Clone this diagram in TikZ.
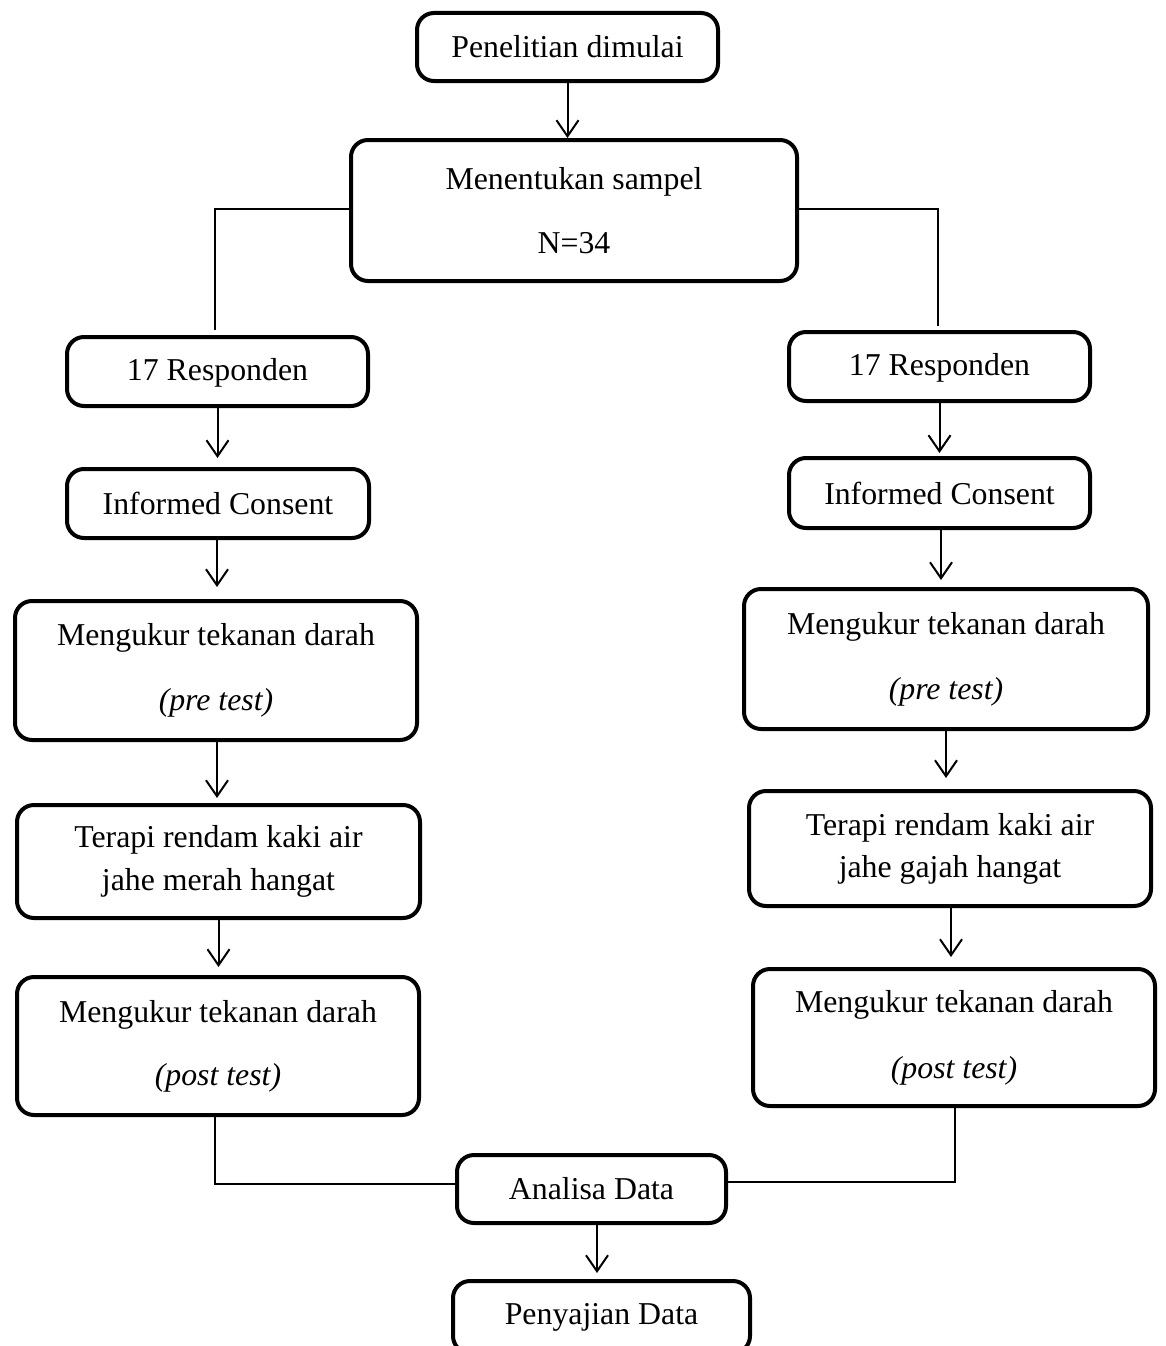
\documentclass[tikz,border=0pt]{standalone}
\usepackage{fontspec}
\setmainfont{Liberation Serif}
\usetikzlibrary{arrows.meta}
\begin{document}
\begin{tikzpicture}[x=1pt,y=-1pt,
  box/.style={draw, line width=4pt, rounded corners=17pt, align=center, inner sep=0pt,
              font=\fontsize{31.8}{38}\selectfont},
  ln/.style={line width=2pt},
  arr/.style={ln, -{Straight Barb[length=16pt,width=22pt]}}]
\useasboundingbox (0,0) rectangle (1165,1346);
\clip (0,0) rectangle (1165,1346);

\node[box, minimum width=301pt, minimum height=68pt] (pen) at (567.5,47) {Penelitian dimulai};
\node[box, minimum width=446pt, minimum height=141pt] (men) at (574,210.5) {Menentukan sampel\\[26pt]N=34};

\node[box, minimum width=301pt, minimum height=69pt, text height=22pt, text depth=4pt] (r1L) at (217.5,371.5) {17 Responden};
\node[box, minimum width=301pt, minimum height=69pt, text height=22pt, text depth=4pt] (r1R) at (939.5,366.5) {17 Responden};

\node[box, minimum width=302pt, minimum height=69pt] (icL) at (218,503.5) {Informed Consent};
\node[box, minimum width=301pt, minimum height=70pt] (icR) at (939.5,493) {Informed Consent};

\node[box, minimum width=402pt, minimum height=139pt] (preL) at (216,670.5) {Mengukur tekanan darah\\[27pt]\textit{(pre test)}};
\node[box, minimum width=404pt, minimum height=140pt] (preR) at (946,659) {Mengukur tekanan darah\\[27pt]\textit{(pre test)}};

\node[box, minimum width=403pt, minimum height=113pt] (terL) at (218.5,861.5) {Terapi rendam kaki air\\[5pt]jahe merah hangat};
\node[box, minimum width=402pt, minimum height=115pt] (terR) at (950,848.5) {Terapi rendam kaki air\\[4pt]jahe gajah hangat};

\node[box, minimum width=402pt, minimum height=138pt] (postL) at (218,1046) {Mengukur tekanan darah\\[25pt]\textit{(post test)}};
\node[box, minimum width=402pt, minimum height=137pt] (postR) at (954,1037.5) {Mengukur tekanan darah\\[28pt]\textit{(post test)}};

\node[box, minimum width=269pt, minimum height=68pt] (ana) at (591.5,1189) {Analisa Data};
\node[box, minimum width=297pt, minimum height=72pt, text depth=7pt, text height=22pt] (pyj) at (601.5,1317) {Penyajian Data};

% connectors
\draw[arr] (pen.south) -- (pen.south |- men.north);

\draw[ln, shorten >=5pt] ([yshift=1.5pt]men.west) -| ([xshift=-2.5pt]r1L.north);
\draw[ln, shorten >=4pt] ([yshift=1.5pt]men.east) -| ([xshift=-1.5pt]r1R.north);

\draw[arr, shorten >=9pt] (r1L.south) -- (r1L.south |- icL.north);
\draw[arr, shorten >=12pt] ([xshift=-1pt]icL.south) -- ([xshift=-1pt]icL.south |- preL.north);
\draw[arr, shorten >=5pt] ([xshift=1pt]preL.south) -- ([xshift=1pt]preL.south |- terL.north);
\draw[arr, shorten >=8pt] (terL.south) -- (terL.south |- postL.north);

\draw[arr, shorten >=3pt] (r1R.south) -- (r1R.south |- icR.north);
\draw[arr, shorten >=7pt] ([xshift=1.5pt]icR.south) -- ([xshift=1.5pt]icR.south |- preR.north);
\draw[arr, shorten >=11pt] (preR.south) -- (preR.south |- terR.north);
\draw[arr, shorten >=10pt] ([xshift=1pt]terR.south) -- ([xshift=1pt]terR.south |- postR.north);

\draw[ln] ([xshift=-3pt]postL.south) |- ([yshift=5pt]ana.west);
\draw[ln] ([xshift=1pt]postR.south) |- ([yshift=7pt]ana.east);

\draw[arr, shorten >=6pt] ([xshift=5.5pt]ana.south) -- ([xshift=5.5pt]ana.south |- pyj.north);
\end{tikzpicture}
\end{document}
